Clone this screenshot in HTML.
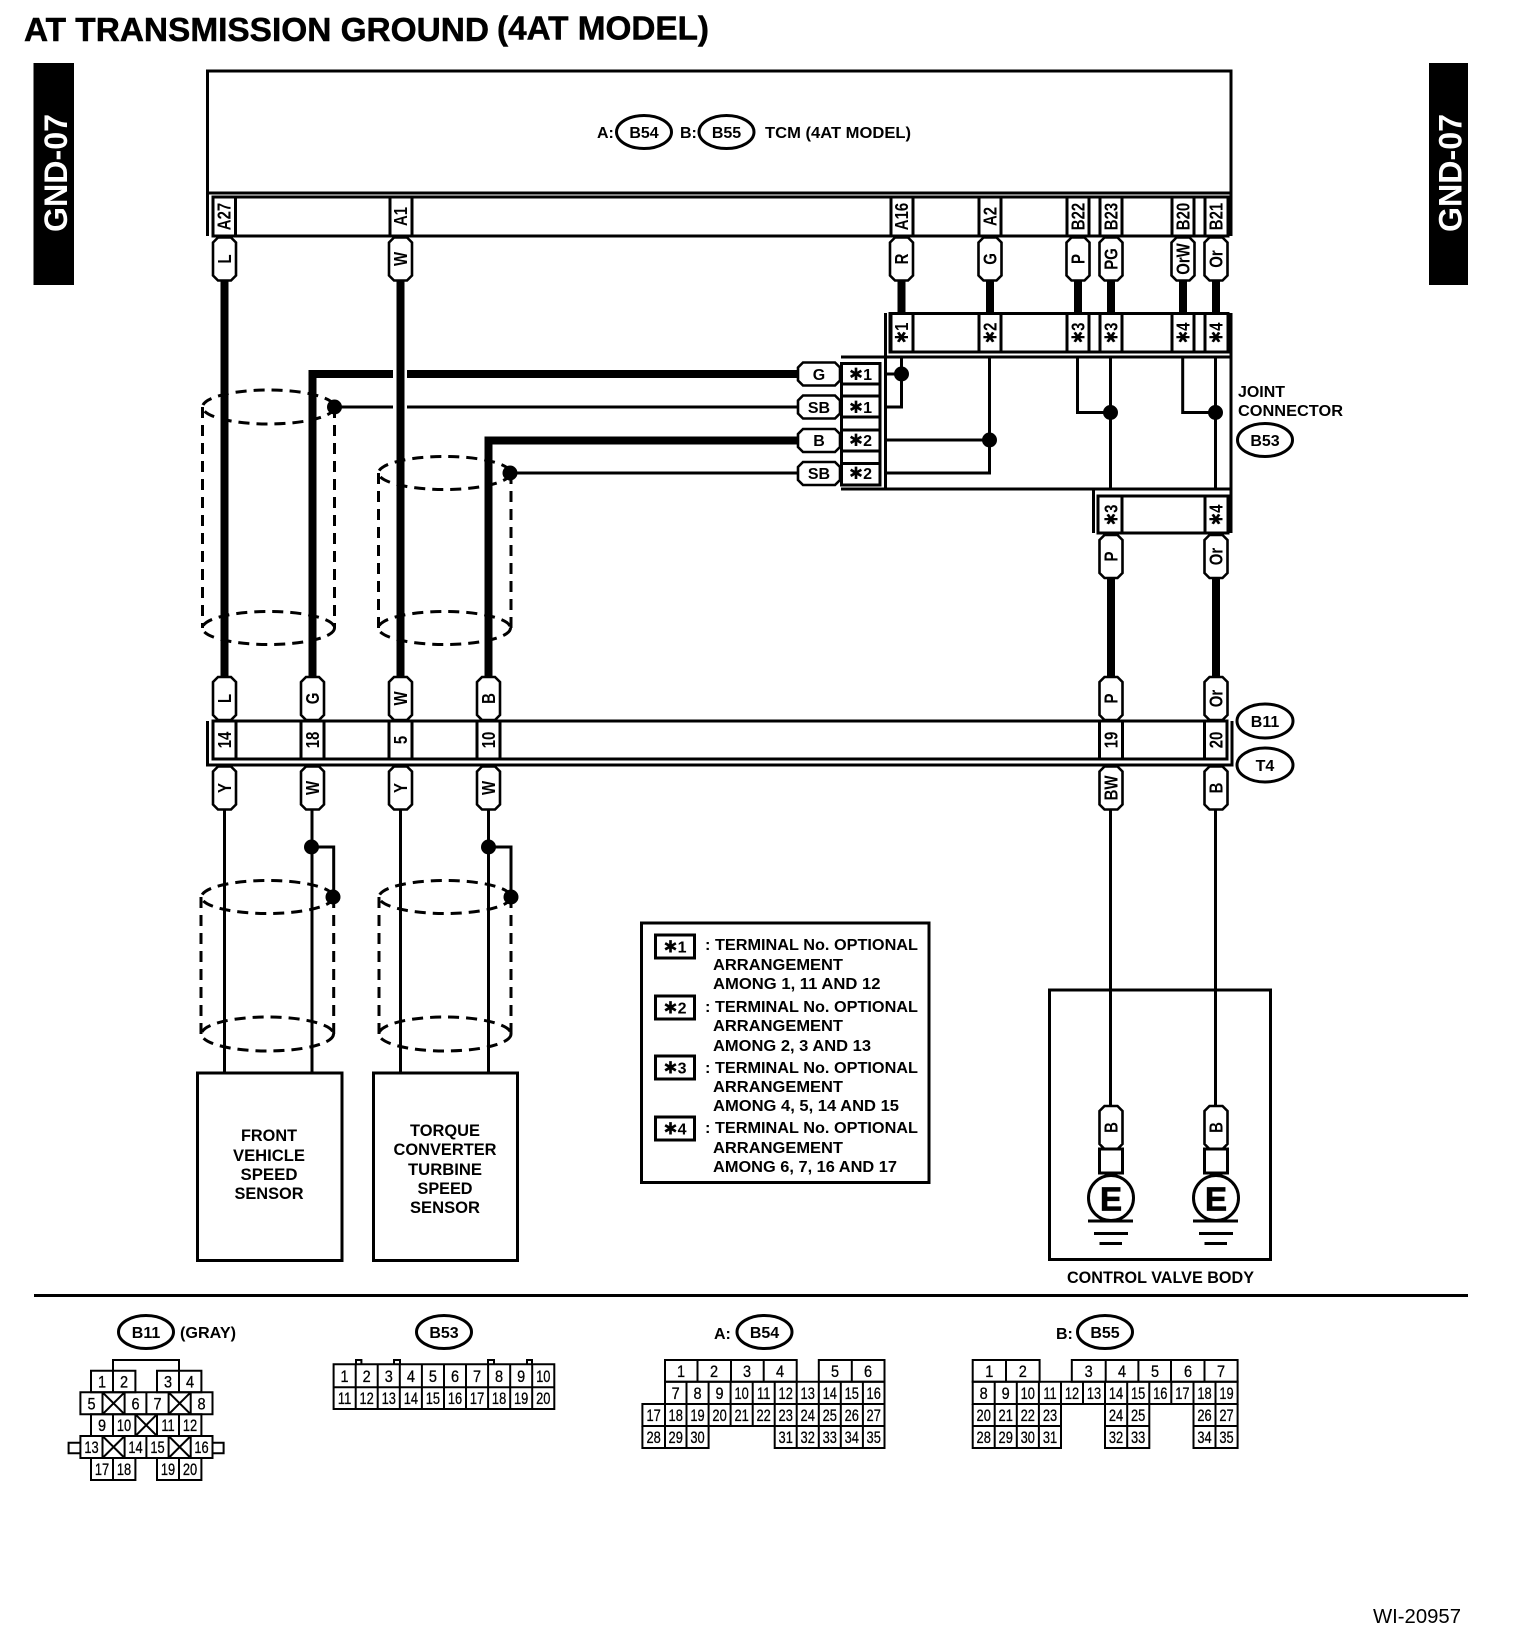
<!DOCTYPE html>
<html><head><meta charset="utf-8"><title>AT Transmission Ground (4AT Model)</title>
<style>
html,body{margin:0;padding:0;background:#fff}
svg{display:block}
text{font-family:"Liberation Sans","DejaVu Sans",sans-serif;fill:#000}
.b{font-weight:bold;font-size:16px}
.c{font-weight:bold;font-size:16px;text-anchor:middle}
.r{font-weight:bold;font-size:18px;text-anchor:middle}
.n text{font-size:16.5px;text-anchor:middle;stroke:#000;stroke-width:.3px;transform-box:fill-box;transform-origin:center;transform:scaleX(.88)}
.n .d{transform:scaleX(.78)}
.l{fill:none;stroke:#000;stroke-width:3}
.t{fill:none;stroke:#000;stroke-width:2}
.k{fill:none;stroke:#000;stroke-width:8}
.w{fill:#fff;stroke:#000;stroke-width:3}
.s{fill:none;stroke:#000;stroke-width:3;stroke-dasharray:11 7}
.p{fill:#fff;stroke:#000;stroke-width:2.6}
</style></head><body>
<svg xmlns="http://www.w3.org/2000/svg" width="1520" height="1652" viewBox="0 0 1520 1652">
<defs>
<path id="p" class="p" d="M-11.5,5L-6.5,0H6.5L11.5,5V38L6.5,43H-6.5L-11.5,38Z"/>
<path id="h" class="p" d="M5,0H37L42,5V18L37,23H5L0,18V5Z"/>
</defs>
<rect width="1520" height="1652" fill="#fff"/>

<!-- title -->
<text x="24" y="41" font-weight="bold" font-size="33" stroke="#000" stroke-width=".5" textLength="465" lengthAdjust="spacingAndGlyphs">AT TRANSMISSION GROUND</text>
<text x="497" y="39.5" font-weight="bold" font-size="33" stroke="#000" stroke-width=".5" textLength="212" lengthAdjust="spacingAndGlyphs">(4AT MODEL)</text>

<!-- side tags -->
<rect x="33.5" y="63" width="40.5" height="222" fill="#000"/>
<rect x="1429" y="63" width="39" height="222" fill="#000"/>
<text transform="translate(67,232) rotate(-90)" style="fill:#fff" font-weight="bold" font-size="32" textLength="118" lengthAdjust="spacingAndGlyphs">GND-07</text>
<text transform="translate(1461.5,232) rotate(-90)" style="fill:#fff" font-weight="bold" font-size="32" textLength="118" lengthAdjust="spacingAndGlyphs">GND-07</text>

<!-- TCM -->
<rect class="l" x="207.5" y="71" width="1023.5" height="122"/>
<path class="l" d="M207.5,193V236M1231,193V236"/>
<rect class="l" x="213" y="197" width="1015" height="39"/>
<path class="l" d="M213,197V236M235.5,197V236M390,197V236M412,197V236M891,197V236M913,197V236M979,197V236M1001,197V236M1067,197V236M1089,197V236M1100,197V236M1122,197V236M1172,197V236M1194,197V236M1205,197V236"/>
<text class="b" x="597" y="138">A:</text>
<ellipse class="l" cx="644" cy="132" rx="27.5" ry="16.5"/>
<text class="c" x="644" y="138">B54</text>
<text class="b" x="680" y="138">B:</text>
<ellipse class="l" cx="726.5" cy="132" rx="27.5" ry="16.5"/>
<text class="c" x="726.5" y="138">B55</text>
<text class="b" x="765" y="138" textLength="146" lengthAdjust="spacingAndGlyphs">TCM (4AT MODEL)</text>

<text class="r" transform="translate(230.5,216.5) rotate(-90) scale(.83,1)">A27</text>
<text class="r" transform="translate(407,216.5) rotate(-90) scale(.83,1)">A1</text>
<text class="r" transform="translate(908,216.5) rotate(-90) scale(.83,1)">A16</text>
<text class="r" transform="translate(996.5,216.5) rotate(-90) scale(.83,1)">A2</text>
<text class="r" transform="translate(1084.5,216.5) rotate(-90) scale(.83,1)">B22</text>
<text class="r" transform="translate(1117.5,216.5) rotate(-90) scale(.83,1)">B23</text>
<text class="r" transform="translate(1189.5,216.5) rotate(-90) scale(.83,1)">B20</text>
<text class="r" transform="translate(1222.5,216.5) rotate(-90) scale(.83,1)">B21</text>

<!-- thick wires -->
<path class="k" d="M224.5,278V679M400.5,278V679M312.5,677V374H393M407,374H800M488.5,677V440.5H800"/>
<path class="k" d="M901.5,278V314M990,278V314M1078,278V314M1111,278V314M1183,278V314M1216,278V314M1111,576V679M1216,576V679"/>
<!-- thin wires -->
<path class="l" d="M334.5,407H393M407,407H800M510,473H800"/>
<path class="l" d="M224.5,808V1073M312,808V1073M400.5,808V1073M488.5,808V1073M1110.5,808V1108M1215.5,808V1108"/>
<path class="l" d="M312,847H333.7V897M488.5,847H511V897"/>

<!-- shield cylinders -->
<g class="s">
<ellipse class="s" cx="268.5" cy="407" rx="66" ry="17"/>
<ellipse class="s" cx="268.5" cy="628" rx="66" ry="16.5"/>
<path class="s" d="M202.5,407V628M334.5,407V628"/>
<ellipse class="s" cx="444.5" cy="473" rx="66" ry="16.5"/>
<ellipse class="s" cx="444.5" cy="628" rx="66" ry="16.5"/>
<path class="s" d="M378.5,473V628M511,473V628"/>
<ellipse class="s" cx="267.5" cy="897" rx="66" ry="16.5"/>
<ellipse class="s" cx="267.5" cy="1034" rx="66" ry="17"/>
<path class="s" d="M201,897V1034M333.7,897V1034"/>
<ellipse class="s" cx="445" cy="897" rx="66" ry="16.5"/>
<ellipse class="s" cx="445" cy="1034" rx="66" ry="17"/>
<path class="s" d="M379,897V1034M511,897V1034"/>
</g>

<!-- joint connector -->
<rect class="l" x="890" y="313.5" width="338" height="38.5"/>
<path class="l" d="M891,313.5V352M913,313.5V352M979,313.5V352M1001,313.5V352M1067,313.5V352M1089,313.5V352M1100,313.5V352M1122,313.5V352M1172,313.5V352M1194,313.5V352M1205,313.5V352"/>
<path class="l" d="M885.5,313V489M1231,313V533M841,357H1231M841,489H1231"/>
<path class="l" d="M841.5,363.5H880V485H841.5ZM841.5,384H880M841.5,396H880M841.5,417H880M841.5,430H880M841.5,451H880M841.5,463.5H880"/>
<path class="l" d="M886,374H901.5M901.5,357V407H886M886,440H989.5M989.5,357V473H886M1077.5,357V412.5H1110.5M1110.5,357V489M1182.7,357V412.5H1215.5M1215.5,357V489"/>
<circle cx="901.5" cy="374" r="7.5"/><circle cx="989.5" cy="440" r="7.5"/><circle cx="1110.5" cy="412.5" r="7.5"/><circle cx="1215.5" cy="412.5" r="7.5"/>
<circle cx="334.5" cy="407" r="7.5"/><circle cx="510" cy="473" r="7.5"/>
<circle cx="311.5" cy="847" r="7.5"/><circle cx="488.5" cy="847" r="7.5"/>
<circle cx="333" cy="897" r="7.5"/><circle cx="511" cy="897" r="7.5"/>

<text class="c" x="860.5" y="380"><tspan font-size="17">✱</tspan>1</text>
<text class="c" x="860.5" y="413"><tspan font-size="17">✱</tspan>1</text>
<text class="c" x="860.5" y="446"><tspan font-size="17">✱</tspan>2</text>
<text class="c" x="860.5" y="479"><tspan font-size="17">✱</tspan>2</text>

<text class="r" transform="translate(908,333) rotate(-90) scale(.83,1)"><tspan font-size="18">✱</tspan>1</text>
<text class="r" transform="translate(996.5,333) rotate(-90) scale(.83,1)"><tspan font-size="18">✱</tspan>2</text>
<text class="r" transform="translate(1084.5,333) rotate(-90) scale(.83,1)"><tspan font-size="18">✱</tspan>3</text>
<text class="r" transform="translate(1117.5,333) rotate(-90) scale(.83,1)"><tspan font-size="18">✱</tspan>3</text>
<text class="r" transform="translate(1189.5,333) rotate(-90) scale(.83,1)"><tspan font-size="18">✱</tspan>4</text>
<text class="r" transform="translate(1222.5,333) rotate(-90) scale(.83,1)"><tspan font-size="18">✱</tspan>4</text>

<rect class="l" x="1098" y="496" width="130" height="37"/>
<path class="l" d="M1093.5,489V533M1122,496V533M1205,496V533"/>
<text class="r" transform="translate(1117.5,515) rotate(-90) scale(.83,1)"><tspan font-size="18">✱</tspan>3</text>
<text class="r" transform="translate(1222.5,515) rotate(-90) scale(.83,1)"><tspan font-size="18">✱</tspan>4</text>

<text class="b" x="1238" y="397" textLength="47" lengthAdjust="spacingAndGlyphs">JOINT</text>
<text class="b" x="1238" y="416" textLength="105" lengthAdjust="spacingAndGlyphs">CONNECTOR</text>
<ellipse class="l" cx="1265" cy="440" rx="27.5" ry="16.5"/>
<text class="c" x="1265" y="446">B53</text>

<!-- horizontal pills -->
<use href="#h" x="798" y="362.5"/><use href="#h" x="798" y="395.5"/><use href="#h" x="798" y="429"/><use href="#h" x="798" y="462"/>
<text class="c" x="819" y="380">G</text>
<text class="c" x="819" y="413">SB</text>
<text class="c" x="819" y="446">B</text>
<text class="c" x="819" y="479">SB</text>

<!-- top pills -->
<use href="#p" x="224.5" y="237.5"/><use href="#p" x="400.5" y="237.5"/><use href="#p" x="901.5" y="237.5"/><use href="#p" x="990" y="237.5"/><use href="#p" x="1078" y="237.5"/><use href="#p" x="1111" y="237.5"/><use href="#p" x="1183" y="237.5"/><use href="#p" x="1216" y="237.5"/>
<text class="r" transform="translate(231,259) rotate(-90) scale(.83,1)">L</text>
<text class="r" transform="translate(407,259) rotate(-90) scale(.83,1)">W</text>
<text class="r" transform="translate(908,259) rotate(-90) scale(.83,1)">R</text>
<text class="r" transform="translate(996.5,259) rotate(-90) scale(.83,1)">G</text>
<text class="r" transform="translate(1084.5,259) rotate(-90) scale(.83,1)">P</text>
<text class="r" transform="translate(1117.5,259) rotate(-90) scale(.83,1)">PG</text>
<text class="r" transform="translate(1189.5,259) rotate(-90) scale(.83,1)">OrW</text>
<text class="r" transform="translate(1222.5,259) rotate(-90) scale(.83,1)">Or</text>

<!-- P / Or pills under joint -->
<use href="#p" x="1111" y="535"/><use href="#p" x="1216" y="535"/>
<text class="r" transform="translate(1117.5,556.5) rotate(-90) scale(.83,1)">P</text>
<text class="r" transform="translate(1222.5,556.5) rotate(-90) scale(.83,1)">Or</text>

<!-- mid connector -->
<use href="#p" x="224.5" y="677"/><use href="#p" x="312.5" y="677"/><use href="#p" x="400.5" y="677"/><use href="#p" x="488.5" y="677"/><use href="#p" x="1111" y="677"/><use href="#p" x="1216" y="677"/>
<text class="r" transform="translate(231,698.5) rotate(-90) scale(.83,1)">L</text>
<text class="r" transform="translate(319,698.5) rotate(-90) scale(.83,1)">G</text>
<text class="r" transform="translate(407,698.5) rotate(-90) scale(.83,1)">W</text>
<text class="r" transform="translate(495,698.5) rotate(-90) scale(.83,1)">B</text>
<text class="r" transform="translate(1117.5,698.5) rotate(-90) scale(.83,1)">P</text>
<text class="r" transform="translate(1222.5,698.5) rotate(-90) scale(.83,1)">Or</text>

<rect class="l" x="213" y="721" width="1014" height="38"/>
<path class="l" d="M207.5,721V765H1232V721"/>
<path class="l" d="M236,721V759M301,721V759M324,721V759M389,721V759M412,721V759M477,721V759M500,721V759M1099.5,721V759M1122.5,721V759M1204.5,721V759"/>
<text class="r" transform="translate(231,740) rotate(-90) scale(.83,1)">14</text>
<text class="r" transform="translate(319,740) rotate(-90) scale(.83,1)">18</text>
<text class="r" transform="translate(407,740) rotate(-90) scale(.83,1)">5</text>
<text class="r" transform="translate(495,740) rotate(-90) scale(.83,1)">10</text>
<text class="r" transform="translate(1117.5,740) rotate(-90) scale(.83,1)">19</text>
<text class="r" transform="translate(1222.5,740) rotate(-90) scale(.83,1)">20</text>
<ellipse class="l" cx="1265" cy="721" rx="28" ry="17"/>
<text class="c" x="1265" y="727">B11</text>
<ellipse class="l" cx="1265" cy="765" rx="28" ry="17"/>
<text class="c" x="1265" y="771">T4</text>

<use href="#p" x="224.5" y="766.5"/><use href="#p" x="312.5" y="766.5"/><use href="#p" x="400.5" y="766.5"/><use href="#p" x="488.5" y="766.5"/><use href="#p" x="1111" y="766.5"/><use href="#p" x="1216" y="766.5"/>
<text class="r" transform="translate(231,788) rotate(-90) scale(.83,1)">Y</text>
<text class="r" transform="translate(319,788) rotate(-90) scale(.83,1)">W</text>
<text class="r" transform="translate(407,788) rotate(-90) scale(.83,1)">Y</text>
<text class="r" transform="translate(495,788) rotate(-90) scale(.83,1)">W</text>
<text class="r" transform="translate(1117.5,788) rotate(-90) scale(.83,1)">BW</text>
<text class="r" transform="translate(1222.5,788) rotate(-90) scale(.83,1)">B</text>

<!-- sensors -->
<rect class="w" x="197.5" y="1073" width="144.5" height="187.5"/>
<rect class="w" x="373.5" y="1073" width="144" height="187.5"/>
<g font-weight="bold" font-size="16.5" text-anchor="middle">
<text x="269" y="1141" textLength="56" lengthAdjust="spacingAndGlyphs">FRONT</text>
<text x="269" y="1161" textLength="72" lengthAdjust="spacingAndGlyphs">VEHICLE</text>
<text x="269" y="1180" textLength="57" lengthAdjust="spacingAndGlyphs">SPEED</text>
<text x="269" y="1199" textLength="69" lengthAdjust="spacingAndGlyphs">SENSOR</text>
<text x="445" y="1136" textLength="70" lengthAdjust="spacingAndGlyphs">TORQUE</text>
<text x="445" y="1155" textLength="103" lengthAdjust="spacingAndGlyphs">CONVERTER</text>
<text x="445" y="1175" textLength="74" lengthAdjust="spacingAndGlyphs">TURBINE</text>
<text x="445" y="1194" textLength="55" lengthAdjust="spacingAndGlyphs">SPEED</text>
<text x="445" y="1213" textLength="70" lengthAdjust="spacingAndGlyphs">SENSOR</text>
</g>

<!-- legend -->
<rect class="l" x="641.5" y="923" width="287.5" height="259.5"/>
<rect class="l" x="655.5" y="935" width="39" height="23"/>
<rect class="l" x="655.5" y="996" width="39" height="23"/>
<rect class="l" x="655.5" y="1056" width="39" height="23"/>
<rect class="l" x="655.5" y="1117" width="39" height="23"/>
<text class="c" x="675" y="952.5"><tspan font-size="17">✱</tspan>1</text>
<text class="c" x="675" y="1013.5"><tspan font-size="17">✱</tspan>2</text>
<text class="c" x="675" y="1073.5"><tspan font-size="17">✱</tspan>3</text>
<text class="c" x="675" y="1134.5"><tspan font-size="17">✱</tspan>4</text>
<g font-weight="bold" font-size="16">
<text x="705" y="950" textLength="213" lengthAdjust="spacingAndGlyphs">: TERMINAL No. OPTIONAL</text>
<text x="713" y="970" textLength="130" lengthAdjust="spacingAndGlyphs">ARRANGEMENT</text>
<text x="713" y="989" textLength="167.5" lengthAdjust="spacingAndGlyphs">AMONG 1, 11 AND 12</text>
<text x="705" y="1012" textLength="213" lengthAdjust="spacingAndGlyphs">: TERMINAL No. OPTIONAL</text>
<text x="713" y="1031" textLength="130" lengthAdjust="spacingAndGlyphs">ARRANGEMENT</text>
<text x="713" y="1051" textLength="158" lengthAdjust="spacingAndGlyphs">AMONG 2, 3 AND 13</text>
<text x="705" y="1073" textLength="213" lengthAdjust="spacingAndGlyphs">: TERMINAL No. OPTIONAL</text>
<text x="713" y="1092" textLength="130" lengthAdjust="spacingAndGlyphs">ARRANGEMENT</text>
<text x="713" y="1111" textLength="186" lengthAdjust="spacingAndGlyphs">AMONG 4, 5, 14 AND 15</text>
<text x="705" y="1133" textLength="213" lengthAdjust="spacingAndGlyphs">: TERMINAL No. OPTIONAL</text>
<text x="713" y="1153" textLength="130" lengthAdjust="spacingAndGlyphs">ARRANGEMENT</text>
<text x="713" y="1172" textLength="184" lengthAdjust="spacingAndGlyphs">AMONG 6, 7, 16 AND 17</text>
</g>

<!-- control valve body -->
<rect class="l" x="1049.5" y="990" width="221" height="269.5" fill="none"/>
<use href="#p" x="1111" y="1106"/><use href="#p" x="1216" y="1106"/>
<text class="r" transform="translate(1117.5,1127.5) rotate(-90) scale(.83,1)">B</text>
<text class="r" transform="translate(1222.5,1127.5) rotate(-90) scale(.83,1)">B</text>
<path class="l" d="M1099.5,1149H1122.5V1173H1099.5ZM1204.5,1149H1227.5V1173H1204.5ZM1106,1173V1178M1116,1173V1178M1211,1173V1178M1221,1173V1178"/>
<circle class="w" cx="1111" cy="1198" r="22.5"/>
<circle class="w" cx="1216" cy="1198" r="22.5"/>
<text x="1111" y="1210.5" text-anchor="middle" font-weight="bold" font-size="33" stroke="#000" stroke-width=".8">E</text>
<text x="1216" y="1210.5" text-anchor="middle" font-weight="bold" font-size="33" stroke="#000" stroke-width=".8">E</text>
<path class="l" d="M1088,1221H1133M1094,1233.5H1128M1099.5,1243.5H1122M1193,1221H1238M1199,1233.5H1233M1204.5,1243.5H1227"/>
<text x="1067" y="1283" font-weight="bold" font-size="17" textLength="187" lengthAdjust="spacingAndGlyphs">CONTROL VALVE BODY</text>

<path class="l" d="M34,1295.5H1468"/>

<!-- B11 connector -->
<ellipse class="l" cx="146" cy="1332" rx="27.5" ry="16.5"/>
<text class="c" x="146" y="1338">B11</text>
<text class="b" x="180" y="1338" textLength="56" lengthAdjust="spacingAndGlyphs">(GRAY)</text>
<path class="t" d="M113,1371V1360H179V1371"/>
<path class="t" d="M91,1370.7H135.4V1392.3H91ZM113,1370.7V1392.3M157,1370.7H201.4V1392.3H157ZM179,1370.7V1392.3"/>
<path class="t" d="M80.4,1392.3H212.5V1414.3H80.4ZM102.5,1392.3V1414.3M124.6,1392.3V1414.3M146.4,1392.3V1414.3M168.6,1392.3V1414.3M190.7,1392.3V1414.3M102.5,1392.3L124.6,1414.3M124.6,1392.3L102.5,1414.3M168.6,1392.3L190.7,1414.3M190.7,1392.3L168.6,1414.3"/>
<path class="t" d="M91,1414.3H201.4V1436H91ZM113,1414.3V1436M135.4,1414.3V1436M157,1414.3V1436M179,1414.3V1436M135.4,1414.3L157,1436M157,1414.3L135.4,1436"/>
<path class="t" d="M80.4,1436H212.5V1458H80.4ZM102.5,1436V1458M124.6,1436V1458M146.4,1436V1458M168.6,1436V1458M190.7,1436V1458M102.5,1436L124.6,1458M124.6,1436L102.5,1458M168.6,1436L190.7,1458M190.7,1436L168.6,1458"/>
<path class="t" d="M91,1458H135.4V1480H91ZM113,1458V1480M157,1458H201.4V1480H157ZM179,1458V1480"/>
<path class="t" d="M80.4,1442.7H68.6V1453.3H80.4M212.5,1442.7H223.6V1453.3H212.5"/>
<g class="n">
<text x="102" y="1387.5">1</text><text x="124" y="1387.5">2</text><text x="168" y="1387.5">3</text><text x="190" y="1387.5">4</text>
<text x="91.5" y="1409.5">5</text><text x="135.5" y="1409.5">6</text><text x="157.5" y="1409.5">7</text><text x="201.5" y="1409.5">8</text>
<text x="102" y="1431">9</text><text class="d" x="124" y="1431">10</text><text class="d" x="168" y="1431">11</text><text class="d" x="190" y="1431">12</text>
<text class="d" x="91.5" y="1453">13</text><text class="d" x="135.5" y="1453">14</text><text class="d" x="157.5" y="1453">15</text><text class="d" x="201.5" y="1453">16</text>
<text class="d" x="102" y="1475">17</text><text class="d" x="124" y="1475">18</text><text class="d" x="168" y="1475">19</text><text class="d" x="190" y="1475">20</text>
</g>

<!-- B53 connector -->
<ellipse class="l" cx="444" cy="1332" rx="27.5" ry="16.5"/>
<text class="c" x="444" y="1338">B53</text>
<path class="t" d="M333.6,1364.3H554.3V1409H333.6ZM333.6,1387.3H554.3M355.7,1364.3V1409M377.7,1364.3V1409M399.8,1364.3V1409M421.9,1364.3V1409M444,1364.3V1409M466,1364.3V1409M488.1,1364.3V1409M510.2,1364.3V1409M532.2,1364.3V1409"/>
<path class="t" d="M356,1364V1360H361.4V1364M394,1364V1360H400V1364M488,1364V1360H494V1364M527,1364V1360H532V1364"/>
<g class="n">
<text x="344.6" y="1382">1</text><text x="366.7" y="1382">2</text><text x="388.8" y="1382">3</text><text x="410.9" y="1382">4</text><text x="432.9" y="1382">5</text><text x="455" y="1382">6</text><text x="477.1" y="1382">7</text><text x="499.1" y="1382">8</text><text x="521.2" y="1382">9</text><text class="d" x="543.3" y="1382">10</text>
<text class="d" x="344.6" y="1404">11</text><text class="d" x="366.7" y="1404">12</text><text class="d" x="388.8" y="1404">13</text><text class="d" x="410.9" y="1404">14</text><text class="d" x="432.9" y="1404">15</text><text class="d" x="455" y="1404">16</text><text class="d" x="477.1" y="1404">17</text><text class="d" x="499.1" y="1404">18</text><text class="d" x="521.2" y="1404">19</text><text class="d" x="543.3" y="1404">20</text>
</g>

<!-- B54 connector -->
<text class="b" x="714" y="1339">A:</text>
<ellipse class="l" cx="764.5" cy="1332" rx="27.5" ry="16.5"/>
<text class="c" x="764.5" y="1338">B54</text>
<path class="t" d="M665,1360H796.7V1381.7H665ZM697.5,1360V1381.7M731,1360V1381.7M763.7,1360V1381.7M818.8,1360H884.5V1381.7H818.8ZM851.8,1360V1381.7"/>
<path class="t" d="M665,1381.7H884.5V1404H665ZM686.5,1381.7V1404M708.6,1381.7V1404M730.6,1381.7V1404M752.7,1381.7V1404M774.7,1381.7V1404M796.7,1381.7V1404M818.8,1381.7V1404M840.8,1381.7V1404M862.9,1381.7V1404"/>
<path class="t" d="M642.4,1404H884.5V1426H642.4ZM665,1404V1426M686.5,1404V1426M708.6,1404V1426M730.6,1404V1426M752.7,1404V1426M774.7,1404V1426M796.7,1404V1426M818.8,1404V1426M840.8,1404V1426M862.9,1404V1426"/>
<path class="t" d="M642.4,1426V1448H708.6V1426M665,1426V1448M686.5,1426V1448M774.7,1426V1448H884.5V1426M796.7,1426V1448M818.8,1426V1448M840.8,1426V1448M862.9,1426V1448"/>
<g class="n">
<text x="681" y="1377">1</text><text x="714" y="1377">2</text><text x="747" y="1377">3</text><text x="780" y="1377">4</text><text x="835" y="1377">5</text><text x="868" y="1377">6</text>
<text x="675.7" y="1399">7</text><text x="697.5" y="1399">8</text><text x="719.6" y="1399">9</text><text class="d" x="741.6" y="1399">10</text><text class="d" x="763.7" y="1399">11</text><text class="d" x="785.7" y="1399">12</text><text class="d" x="807.7" y="1399">13</text><text class="d" x="829.8" y="1399">14</text><text class="d" x="851.8" y="1399">15</text><text class="d" x="873.7" y="1399">16</text>
<text class="d" x="653.7" y="1421">17</text><text class="d" x="675.7" y="1421">18</text><text class="d" x="697.5" y="1421">19</text><text class="d" x="719.6" y="1421">20</text><text class="d" x="741.6" y="1421">21</text><text class="d" x="763.7" y="1421">22</text><text class="d" x="785.7" y="1421">23</text><text class="d" x="807.7" y="1421">24</text><text class="d" x="829.8" y="1421">25</text><text class="d" x="851.8" y="1421">26</text><text class="d" x="873.7" y="1421">27</text>
<text class="d" x="653.7" y="1443">28</text><text class="d" x="675.7" y="1443">29</text><text class="d" x="697.5" y="1443">30</text><text class="d" x="785.7" y="1443">31</text><text class="d" x="807.7" y="1443">32</text><text class="d" x="829.8" y="1443">33</text><text class="d" x="851.8" y="1443">34</text><text class="d" x="873.7" y="1443">35</text>
</g>

<!-- B55 connector -->
<text class="b" x="1056" y="1339">B:</text>
<ellipse class="l" cx="1105" cy="1332" rx="27.5" ry="16.5"/>
<text class="c" x="1105" y="1338">B55</text>
<path class="t" d="M972.7,1360H1039.6V1381.7H972.7ZM1006,1360V1381.7M1071.8,1360H1237.6V1381.7H1071.8ZM1105.7,1360V1381.7M1138.4,1360V1381.7M1171,1360V1381.7M1204.5,1360V1381.7"/>
<path class="t" d="M972.7,1381.7H1237.6V1404H972.7ZM994.7,1381.7V1404M1016.8,1381.7V1404M1038.9,1381.7V1404M1061,1381.7V1404M1083,1381.7V1404M1105,1381.7V1404M1127.2,1381.7V1404M1149.3,1381.7V1404M1171.3,1381.7V1404M1193.5,1381.7V1404M1215.5,1381.7V1404"/>
<path class="t" d="M972.7,1404V1448H1061V1404M972.7,1426H1061M994.7,1404V1448M1016.8,1404V1448M1038.9,1404V1448"/>
<path class="t" d="M1105,1404V1448H1149.3V1404M1105,1426H1149.3M1127.2,1404V1448"/>
<path class="t" d="M1193.5,1404V1448H1237.6V1404M1193.5,1426H1237.6M1215.5,1404V1448"/>
<g class="n">
<text x="989.3" y="1377">1</text><text x="1022.8" y="1377">2</text><text x="1088.7" y="1377">3</text><text x="1122" y="1377">4</text><text x="1155" y="1377">5</text><text x="1188" y="1377">6</text><text x="1221" y="1377">7</text>
<text x="983.7" y="1399">8</text><text x="1005.7" y="1399">9</text><text class="d" x="1027.8" y="1399">10</text><text class="d" x="1050" y="1399">11</text><text class="d" x="1072" y="1399">12</text><text class="d" x="1094" y="1399">13</text><text class="d" x="1116" y="1399">14</text><text class="d" x="1138.2" y="1399">15</text><text class="d" x="1160.3" y="1399">16</text><text class="d" x="1182.4" y="1399">17</text><text class="d" x="1204.5" y="1399">18</text><text class="d" x="1226.5" y="1399">19</text>
<text class="d" x="983.7" y="1421">20</text><text class="d" x="1005.7" y="1421">21</text><text class="d" x="1027.8" y="1421">22</text><text class="d" x="1050" y="1421">23</text><text class="d" x="1116" y="1421">24</text><text class="d" x="1138.2" y="1421">25</text><text class="d" x="1204.5" y="1421">26</text><text class="d" x="1226.5" y="1421">27</text>
<text class="d" x="983.7" y="1443">28</text><text class="d" x="1005.7" y="1443">29</text><text class="d" x="1027.8" y="1443">30</text><text class="d" x="1050" y="1443">31</text><text class="d" x="1116" y="1443">32</text><text class="d" x="1138.2" y="1443">33</text><text class="d" x="1204.5" y="1443">34</text><text class="d" x="1226.5" y="1443">35</text>
</g>

<text x="1373" y="1623" font-size="20.5" textLength="88" lengthAdjust="spacingAndGlyphs">WI-20957</text>
</svg>
</body></html>
